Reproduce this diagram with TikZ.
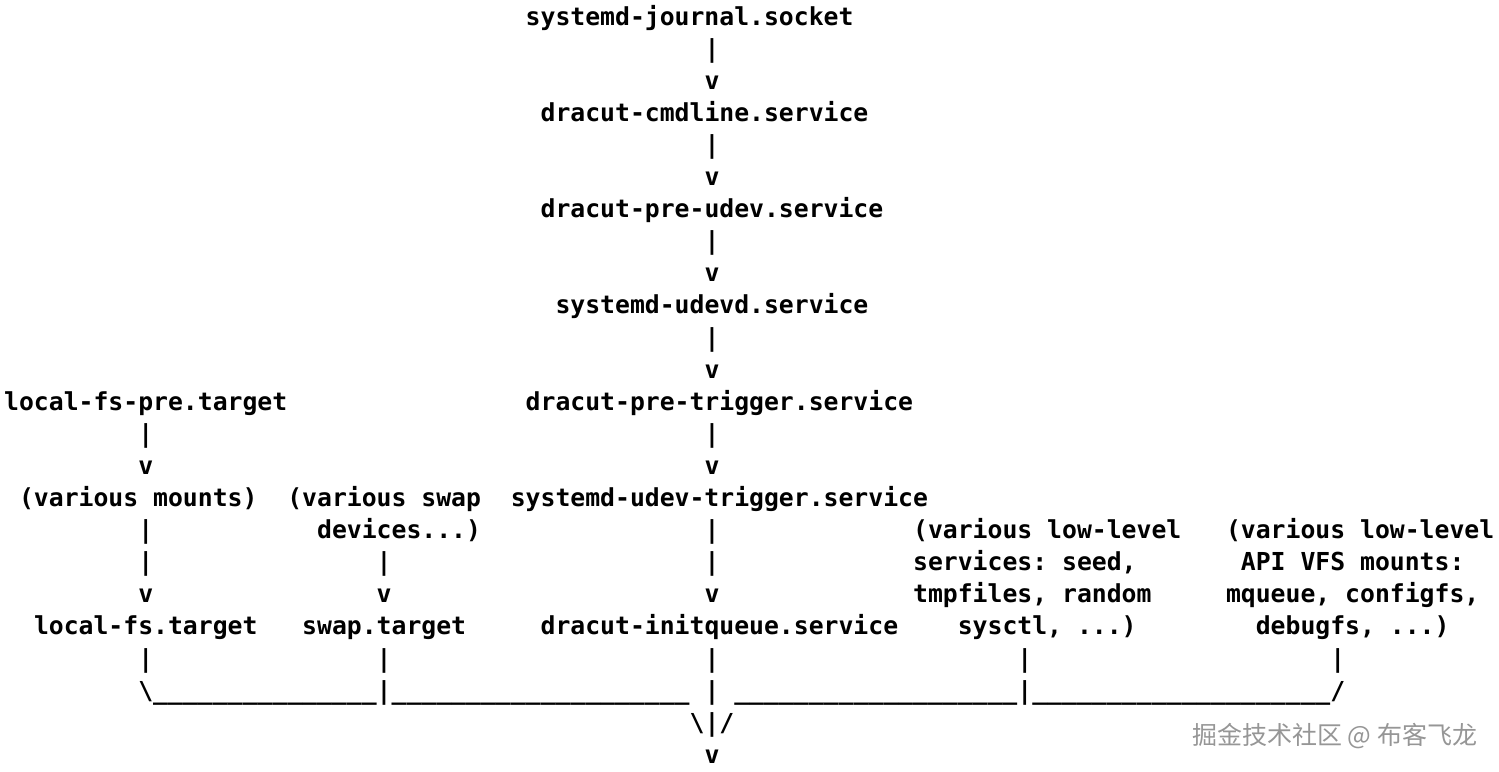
\documentclass[tikz,border=0pt]{standalone}
\usepackage{fontspec}
\setmonofont{DejaVu Sans Mono}
\newfontfamily\cjkfont{Noto Sans CJK SC}
\definecolor{wmgray}{RGB}{150,150,150}
\newcommand{\lowrun}[1]{\foreach\n in {1,...,#1}{\_}}
\tikzset{
  txt/.style={font=\ttfamily\bfseries\fontsize{24.75}{29}\selectfont, inner sep=0pt, anchor=base west},
  mark txt/.style={font=\cjkfont\fontsize{25}{30}\selectfont, text=wmgray, inner sep=0pt, anchor=base west}
}
\begin{document}
\frenchspacing
\begin{tikzpicture}[x=14.9pt, y=-32.1pt]
  \fill[white] (-4pt,25pt) rectangle (1495pt,-746pt);
  \useasboundingbox (-4pt,25pt) rectangle (1495pt,-746pt);
  % main chain
  \node[txt] (journal) at (35,0) {systemd-journal.socket};
  \node[txt] (cmdline) at (36,3) {dracut-cmdline.service};
  \node[txt] (preudev) at (36,6) {dracut-pre-udev.service};
  \node[txt] (udevd) at (37,9) {systemd-udevd.service};
  \node[txt] (pretrigger) at (35,12) {dracut-pre-trigger.service};
  \node[txt] (udevtrigger) at (34,15) {systemd-udev-trigger.service};
  \node[txt] (initqueue) at (36,19) {dracut-initqueue.service};
  % left branches
  \node[txt] (localfspre) at (0,12) {local-fs-pre.target};
  \node[txt] (mounts) at (1,15) {(various mounts)};
  \node[txt] (localfs) at (2,19) {local-fs.target};
  \node[txt] (swapdev) at (19,15) {(various swap};
  \node[txt] (swapdev2) at (21,16) {devices...)};
  \node[txt] (swap) at (20,19) {swap.target};
  % right branches
  \node[txt] (lowsvc) at (61,16) {(various low-level};
  \node[txt] (lowsvc2) at (61,17) {services: seed,};
  \node[txt] (lowsvc3) at (61,18) {tmpfiles, random};
  \node[txt] (lowsvc4) at (64,19) {sysctl, ...)};
  \node[txt] (apivfs) at (82,16) {(various low-level};
  \node[txt] (apivfs2) at (83,17) {API VFS mounts:};
  \node[txt] (apivfs3) at (82,18) {mqueue, configfs,};
  \node[txt] (apivfs4) at (84,19) {debugfs, ...)};
  % connectors
  \foreach \c/\r in {47/1, 47/4, 47/7, 47/10, 47/13, 47/16, 47/17, 47/20, 47/21,
                     9/13, 9/16, 9/17, 9/20, 25/17, 25/20, 25/21, 68/20, 68/21, 89/20}
    \node[txt] (bar-\c-\r) at (\c,\r) {|};
  \foreach \c/\r in {47/2, 47/5, 47/8, 47/11, 47/14, 47/18, 47/23, 9/14, 9/18, 25/18}
    \node[txt] (arr-\c-\r) at (\c,\r) {v};
  \node[txt] (joinl) at (9,21) {\textbackslash};
  \node[txt] (joinr) at (89,21) {/};
  \node[txt] (merge) at (46,22) {\textbackslash|/};
  % bus
  \foreach \c/\n in {10/15, 26/20, 49/19, 69/20}
    \node[txt] (bus-\c) at (\c,21) {\lowrun{\n}};
  % watermark
  \node[mark txt] (mark) at (1188pt,-719pt) {掘金技术社区 @ 布客飞龙};
\end{tikzpicture}
\end{document}
